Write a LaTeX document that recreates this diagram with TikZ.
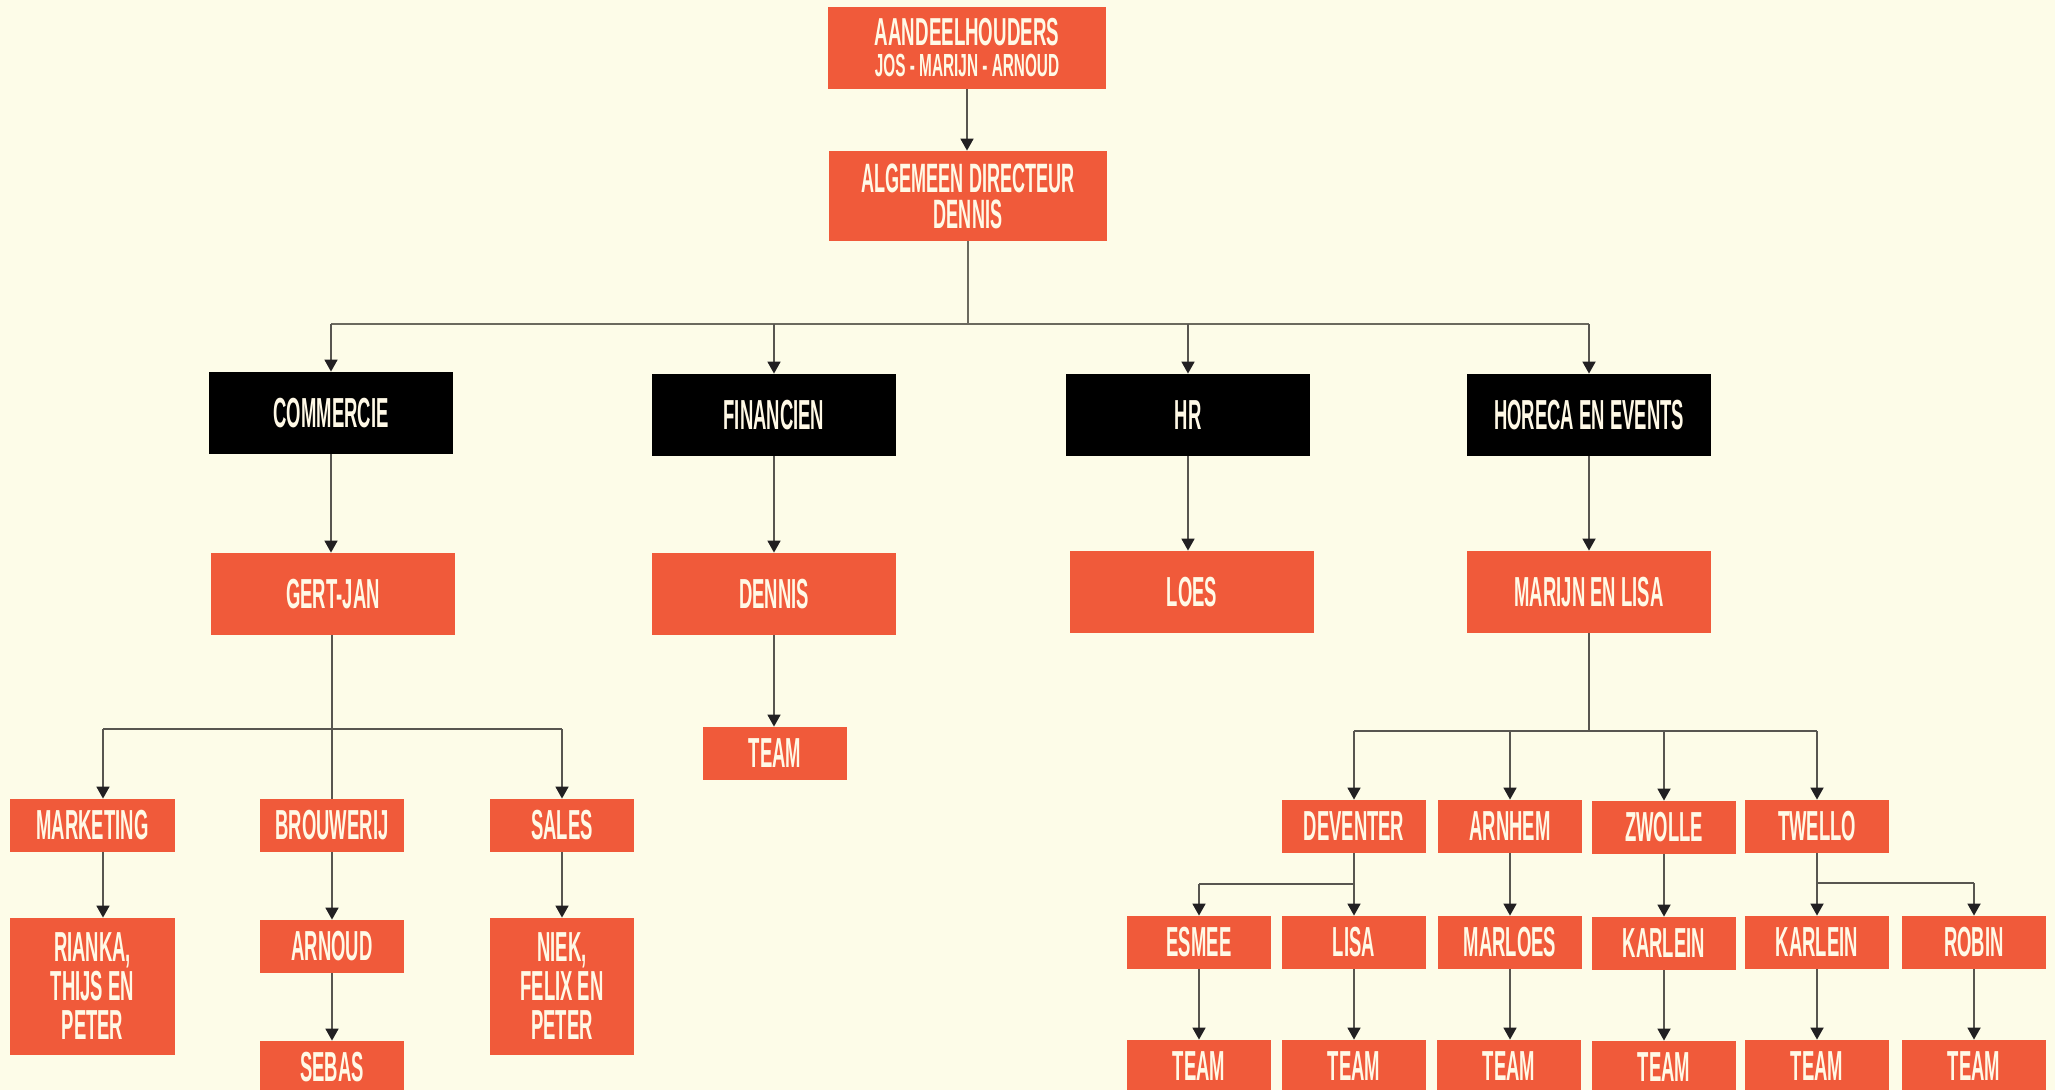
\documentclass[tikz,border=0pt]{standalone}
\usepackage{fontspec}
\newfontfamily\gfont[FakeStretch=0.44]{Liberation Sans}
\newfontfamily\hfont[FakeStretch=0.48]{Liberation Sans}
\usetikzlibrary{arrows.meta}
\definecolor{bg}{RGB}{253,252,232}
\definecolor{orng}{RGB}{240,90,58}
\definecolor{txt}{RGB}{255,249,230}
\definecolor{lnc}{RGB}{88,86,80}
\definecolor{lnl}{RGB}{107,105,94}
\definecolor{tipc}{RGB}{34,32,34}
\begin{document}
\begin{tikzpicture}[x=0.5pt,y=-0.5pt,
  box/.style={fill=orng,text=txt,inner sep=0pt,align=center,
    font=\gfont\bfseries\fontsize{21}{19.5}\selectfont,
    minimum width=72pt,minimum height=26.5pt},
  wide/.style={box,minimum width=122pt,minimum height=41pt},
  dept/.style={wide,fill=black},
  conn/.style={draw=lnc,line width=0.85pt},
  arr/.style={conn,-{Triangle[width=6.5pt,length=6pt,color=tipc]}}
]
\fill[bg] (0,0) rectangle (2055,1090);
\useasboundingbox (0,0) rectangle (2055,1090);
\clip (0,0) rectangle (2055,1090);

% top levels
\node[box,minimum width=139pt,minimum height=41pt,font=\hfont\bfseries\fontsize{16}{15.5}\selectfont] (top) at (967,48)
  {{\fontsize{19.5}{15.5}\selectfont AANDEELHOUDERS}\\JOS - MARIJN - ARNOUD};
\node[box,minimum width=139pt,minimum height=45pt,font=\gfont\bfseries\fontsize{20.5}{18}\selectfont] (dir) at (968,196)
  {ALGEMEEN DIRECTEUR\\DENNIS};

% departments
\node[dept] (comm) at (331,413) {COMMERCIE};
\node[dept] (fin) at (774,415) {FINANCIEN};
\node[dept] (hr) at (1188,415) {HR};
\node[dept] (hor) at (1589,415) {HORECA EN EVENTS};

% managers
\node[wide] (gert) at (333,594) {GERT-JAN};
\node[wide] (dennis) at (774,594) {DENNIS};
\node[wide] (loes) at (1192,592) {LOES};
\node[wide] (marijn) at (1589,592) {MARIJN EN LISA};

\node[box] (teamf) at (775,753.5) {TEAM};

% commercie subtree
\node[box,minimum width=82.5pt] (mkt) at (92.5,825.5) {MARKETING};
\node[box] (brw) at (332,825.5) {BROUWERIJ};
\node[box] (sales) at (562,825.5) {SALES};
\node[box,minimum width=82.5pt,minimum height=68.5pt] (rianka) at (92.5,986.5) {RIANKA,\\THIJS EN\\PETER};
\node[box] (arnoud) at (332,946.5) {ARNOUD};
\node[box] (sebas) at (332,1067.5) {SEBAS};
\node[box,minimum height=68.5pt] (niek) at (562,986.5) {NIEK,\\FELIX EN\\PETER};

% horeca subtree
\node[box] (dev) at (1354,826.5) {DEVENTER};
\node[box] (arn) at (1510,826.5) {ARNHEM};
\node[box] (zwo) at (1664,827.5) {ZWOLLE};
\node[box] (twe) at (1817,826.5) {TWELLO};
\node[box] (esm) at (1199,942.5) {ESMEE};
\node[box] (lisa) at (1354,942.5) {LISA};
\node[box] (marl) at (1510,942.5) {MARLOES};
\node[box] (kar1) at (1664,943.5) {KARLEIN};
\node[box] (kar2) at (1817,942.5) {KARLEIN};
\node[box] (rob) at (1974,942.5) {ROBIN};
\node[box] (t1) at (1199,1066.5) {TEAM};
\node[box] (t2) at (1354,1066.5) {TEAM};
\node[box] (t3) at (1509,1066.5) {TEAM};
\node[box] (t4) at (1664,1067.5) {TEAM};
\node[box] (t5) at (1817,1066.5) {TEAM};
\node[box] (t6) at (1974,1066.5) {TEAM};

% connectors: top
\draw[arr] (top.south) -- (top.south |- dir.north);
\coordinate (b1) at (968,324);
\draw[conn,draw=lnl] (dir.south) -- (dir.south |- b1);
\draw[conn,draw=lnl] (comm.north |- b1) -- (hor.north |- b1);
\foreach \n in {comm,fin,hr,hor} \draw[arr] (\n.north |- b1) -- (\n.north);

% simple verticals
\draw[arr] (comm.south) -- (comm.south |- gert.north);
\draw[arr] (fin.south) -- (fin.south |- dennis.north);
\draw[arr] (dennis.south) -- (dennis.south |- teamf.north);
\draw[arr] (hr.south) -- (hr.south |- loes.north);
\draw[arr] (hor.south) -- (hor.south |- marijn.north);

% commercie bus
\coordinate (b2) at (331,729);
\coordinate (m) at (103,729);
\draw[conn] (brw.north |- gert.south) -- (brw.north);
\draw[conn] (m) -- (sales.north |- b2);
\draw[arr] (m) -- (m |- mkt.north);
\draw[arr] (sales.north |- b2) -- (sales.north);
\draw[arr] (m |- mkt.south) -- (m |- rianka.north);
\draw[arr] (brw.south) -- (arnoud.north);
\draw[arr] (arnoud.south) -- (sebas.north);
\draw[arr] (sales.south) -- (niek.north);

% horeca bus
\coordinate (b3) at (1589,731);
\draw[conn] (marijn.south) -- (marijn.south |- b3);
\draw[conn] (dev.north |- b3) -- (twe.north |- b3);
\foreach \n in {dev,arn,zwo,twe} \draw[arr] (\n.north |- b3) -- (\n.north);

\coordinate (b4) at (1354,884);
\draw[conn] (dev.south) -- (dev.south |- b4);
\draw[conn] (esm.north |- b4) -- (b4);
\draw[arr] (esm.north |- b4) -- (esm.north);
\draw[arr] (b4) -- (lisa.north);

\coordinate (b5) at (1817,883);
\draw[conn] (twe.south) -- (twe.south |- b5);
\draw[conn] (b5) -- (rob.north |- b5);
\draw[arr] (b5) -- (kar2.north);
\draw[arr] (rob.north |- b5) -- (rob.north);

\draw[arr] (arn.south) -- (marl.north);
\draw[arr] (zwo.south) -- (kar1.north);
\foreach \a/\b in {esm/t1,lisa/t2,kar1/t4,kar2/t5,rob/t6}
  \draw[arr] (\a.south) -- (\b.north);
\draw[arr] (marl.south) -- (marl.south |- t3.north);
\end{tikzpicture}
\end{document}
